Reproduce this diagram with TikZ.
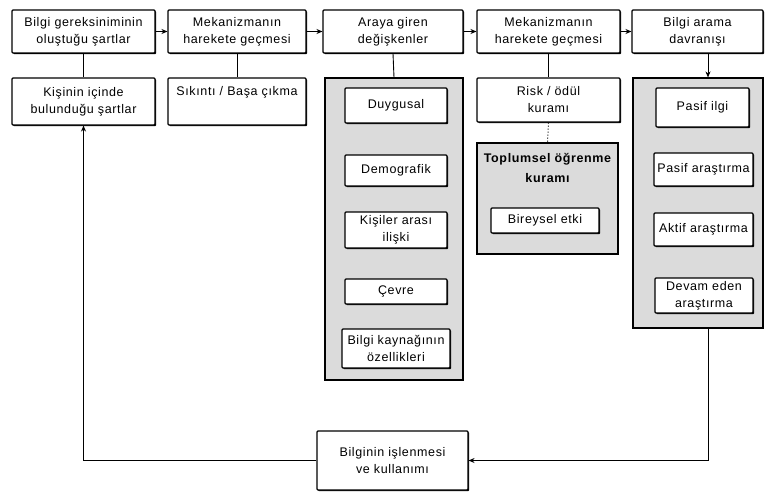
\documentclass[tikz,border=0pt]{standalone}
\usepackage{fontspec}
\setmainfont[LetterSpace=5]{Liberation Sans}
\usetikzlibrary{arrows.meta,shadows}
\begin{document}
\begin{tikzpicture}[x=1pt,y=-1pt,
  every node/.style={font=\fontsize{12.5}{17}\selectfont, align=center, inner sep=0pt},
  shad/.style={drop shadow={shadow xshift=1.2pt, shadow yshift=-1.2pt, opacity=1, fill=black}},
  box/.style={draw, line width=1.1pt, fill=white, rounded corners=1pt, shad},
  panel/.style={draw, line width=1.1pt, fill=gray!28, shad},
  conn/.style={line width=0.9pt},
  arr/.style={conn, -{Stealth[length=6pt,width=5pt]}}
]
\useasboundingbox (0,0) rectangle (765,495);
% top row
\node[box, minimum width=143pt, minimum height=43pt] (b1) at (83.5,31.5) {Bilgi gereksiniminin\\oluştuğu şartlar};
\node[box, minimum width=138pt, minimum height=43pt] (b2) at (237,31.5) {Mekanizmanın\\harekete geçmesi};
\node[box, minimum width=140pt, minimum height=43pt] (b3) at (393,31.5) {Araya giren\\değişkenler};
\node[box, minimum width=143pt, minimum height=43pt] (b4) at (548.5,31.5) {Mekanizmanın\\harekete geçmesi};
\node[box, minimum width=131pt, minimum height=43pt] (b5) at (697.5,31.5) {Bilgi arama\\davranışı};
% second row
\node[box, minimum width=143pt, minimum height=47pt] (kis) at (83.5,101.5) {Kişinin içinde\\bulunduğu şartlar};
\node[box, minimum width=138pt, minimum height=47pt] (sik) at (237,101.5) {};
\node (siktxt) at (237,92) {Sıkıntı / Başa çıkma};
\node[box, minimum width=143pt, minimum height=44pt] (risk) at (548.5,100) {Risk / ödül\\kuramı};
% panels
\node[panel, minimum width=138pt, minimum height=302pt] (p1) at (394,229) {};
\node[panel, minimum width=130pt, minimum height=250pt] (p2) at (698,203) {};
\node[panel, minimum width=141pt, minimum height=111pt] (p3) at (547.5,198.5) {};
% panel 1 items
\node[box, minimum width=102pt, minimum height=35pt] (duy) at (396,105.5) {Duygusal};
\node[box, minimum width=102pt, minimum height=31pt] (dem) at (396,170.5) {Demografik};
\node[box, minimum width=102pt, minimum height=36pt] (kia) at (396,230) {Kişiler arası\\ilişki};
\node[box, minimum width=102pt, minimum height=25pt] (cev) at (396,291.5) {Çevre};
\node[box, minimum width=108pt, minimum height=39pt] (bko) at (396,348.5) {Bilgi kaynağının\\özellikleri};
% panel 2 items
\node[box, minimum width=93pt, minimum height=39pt] (pil) at (702.5,107.5) {Pasif ilgi};
\node[box, minimum width=99pt, minimum height=33pt] (par) at (703.5,169.5) {Pasif araştırma};
\node[box, minimum width=99pt, minimum height=33pt] (aar) at (703.5,229.5) {Aktif araştırma};
\node[box, minimum width=98pt, minimum height=35pt] (dea) at (704,295.5) {Devam eden\\araştırma};
% panel 3 items
\node[font=\bfseries\fontsize{12.5}{20}\selectfont] (toptxt) at (547.5,168) {Toplumsel öğrenme\\kuramı};
\node[box, minimum width=108pt, minimum height=25pt] (bir) at (545,220.5) {Bireysel etki};
% bottom
\node[box, minimum width=151pt, minimum height=59pt] (bb) at (392.5,460.5) {Bilginin işlenmesi\\ve kullanımı};
% connectors
\coordinate (rx) at (708,0);
\draw[arr] (b1) -- (b2);
\draw[arr] (b2) -- (b3);
\draw[arr] (b3) -- (b4);
\draw[arr] (b4) -- (b5);
\draw[conn] (b1.south) -- (kis.north);
\draw[conn] (b2.south) -- (sik.north);
\draw[conn] (b3.south) -- (p1.north);
\draw[conn] (b4.south) -- (risk.north);
\draw[line width=1pt, dotted] (risk.south) -- (p3.north);
\draw[arr] (b5.south -| rx) -- (p2.north -| rx);
\draw[arr] (p2.south -| rx) |- (bb.east);
\draw[arr] (bb.west) -| (kis.south);
\end{tikzpicture}
\end{document}
